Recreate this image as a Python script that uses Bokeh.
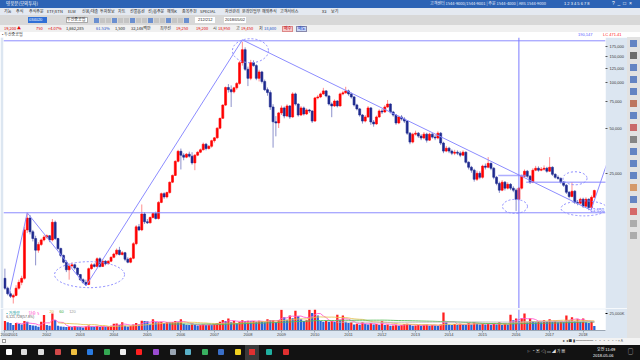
import pandas as pd
from bokeh.plotting import figure
from bokeh.models import (ColumnDataSource, FixedTicker, NumeralTickFormatter, Span,
                          Label, Div, Range1d)
from bokeh.layouts import column, row
from bokeh.embed import file_html
from bokeh.resources import INLINE

# ---------------- data (monthly candles, month index: 0 = 2000-01) ----------------
month_index = list(range(9, 221))

opens = [
    5000, 4300, 3950,
    3750, 3850, 4300, 4700, 5000, 10500, 12600, 10200, 9200, 7700, 8400, 9000,
    9400, 9600, 9000, 11800, 9200, 7900, 7100, 6400, 5700, 6050, 6150, 5850,
    5300, 4900, 4700, 4550, 5800, 6150, 6000, 6750, 6000, 6500, 6250, 6500,
    6900, 7250, 7700, 7200, 7400, 6700, 6400, 6800, 8500, 11000, 10500, 13400,
    11900, 11700, 12700, 13500, 12500, 16000, 18300, 17400, 18600, 21800, 24200, 30000,
    35000, 33000, 32000, 33500, 32500, 29300, 33000, 34500, 35800, 39000, 36500, 37800,
    41200, 43000, 49900, 58000, 71000, 93000, 90000, 87000, 92500, 99000, 136000, 166000,
    123000, 107000, 136000, 130000, 107000, 118000, 102000, 90000, 86000, 69000, 55000, 54000,
    63000, 68000, 60100, 70100, 59200, 84300, 72200, 61000, 68000, 62000, 65900, 64900,
    55600, 79300, 80500, 84300, 88300, 81700, 72200, 70100, 75600, 70100, 84300, 85700,
    88300, 84300, 80500, 71200, 67000, 61000, 55600, 59200, 68000, 54800, 53200, 59200,
    64900, 63900, 69000, 72200, 63900, 61000, 54000, 59200, 57400, 55600, 46200, 40300,
    45500, 46200, 44200, 42900, 45500, 41500, 45500, 43500, 42900, 46200, 39700, 35100,
    36700, 35100, 34000, 34500, 34000, 33000, 34500, 29600, 27400, 26200, 22800, 25000,
    23500, 27900, 27400, 29100, 27000, 23500, 21400, 19300, 21800, 19900, 21100, 19900,
    19300, 16800, 19900, 23900, 25800, 23900, 21800, 26200, 27000, 26200, 26600, 27000,
    25800, 27400, 24600, 23500, 23100, 21800, 20800, 18700, 17500, 19000, 16000, 15800,
    16800, 15100, 16800, 14800, 17300,
]
highs = [
    5800, 4400, 4100,
    3950, 4500, 4900, 5200, 11000, 13650, 13200, 10500, 9600, 8700, 9200, 9700,
    9800, 9700, 12400, 12100, 9300, 8000, 7200, 6600, 6300, 6400, 6250, 5900,
    5350, 5000, 4900, 5900, 6300, 6300, 6900, 6900, 6700, 6600, 6600, 7000,
    7400, 7900, 8100, 7600, 7500, 6900, 6900, 8700, 11300, 11500, 15500, 13800,
    12400, 12900, 13700, 13900, 16300, 18600, 18700, 18900, 22000, 24500, 30500, 35800,
    36500, 34000, 34000, 34800, 34500, 33500, 35000, 36500, 40000, 39800, 38500, 41800,
    43500, 50500, 58500, 72000, 94500, 98000, 96000, 94000, 101000, 140000, 187000, 172000,
    128000, 142000, 141000, 133000, 122000, 120000, 105000, 93000, 89000, 72000, 60000, 64000,
    70500, 69500, 72000, 71000, 86500, 86000, 73000, 70000, 69500, 67500, 67000, 65500,
    80500, 83000, 86000, 92500, 89500, 82500, 74000, 77500, 76500, 86000, 88500, 94000,
    90000, 86000, 81500, 72500, 68000, 62000, 61000, 70000, 69000, 56500, 60500, 66500,
    67000, 71000, 76800, 73000, 65000, 62000, 60500, 61000, 59000, 56500, 47000, 46500,
    48000, 47000, 45500, 47000, 46500, 46500, 46500, 45000, 47500, 47000, 40500, 38000,
    37500, 36000, 35800, 35500, 35000, 35500, 35000, 30000, 28000, 26800, 26000, 25800,
    28500, 29000, 32000, 29500, 27500, 24000, 22000, 22500, 22200, 21800, 21500, 20500,
    19800, 20300, 24500, 26500, 26300, 24300, 27000, 28000, 27800, 27500, 28200, 27600,
    32000, 27800, 25000, 24200, 23500, 22200, 21200, 19000, 21800, 19300, 16600, 17200,
    17200, 17300, 17000, 17800, 19450,
]
lows = [
    4200, 3850, 3700,
    3400, 3800, 4200, 4500, 4900, 10000, 9800, 8800, 6100, 7400, 8200, 8800,
    9200, 8700, 8800, 9000, 7700, 6900, 6300, 5500, 4900, 5900, 5700, 5200,
    4800, 4600, 4450, 4500, 5700, 5900, 5900, 5900, 5950, 6100, 6200, 6400,
    6800, 7100, 7100, 7100, 6500, 6300, 6300, 6700, 8300, 10300, 10300, 11500,
    11500, 11600, 12500, 12300, 12300, 15800, 16900, 17000, 18300, 21500, 24000, 29500,
    26500, 30500, 31500, 31800, 28500, 26200, 32500, 34000, 35500, 35500, 36000, 37000,
    40000, 42500, 49000, 57500, 70000, 86000, 69000, 85000, 90000, 97000, 130000, 120000,
    95000, 104000, 128000, 104000, 102000, 99000, 88000, 82000, 66000, 37000, 44000, 50000,
    61000, 58000, 59000, 57500, 58500, 70500, 59500, 60000, 60500, 61000, 63000, 54000,
    55000, 77500, 79000, 83000, 80000, 70500, 59000, 69000, 68500, 69500, 82500, 84500,
    82000, 78500, 69500, 65500, 59500, 53500, 54500, 58500, 52500, 51000, 52500, 58500,
    62000, 63000, 68000, 62500, 59500, 52500, 53000, 56000, 54000, 45000, 39000, 39500,
    44500, 43000, 41500, 42000, 40000, 41000, 42500, 41500, 42000, 38500, 34000, 34500,
    34000, 33000, 33000, 33000, 32000, 32500, 29000, 26500, 25200, 22000, 22200, 22800,
    23000, 26500, 27000, 26200, 22800, 20800, 18500, 19000, 19200, 19500, 19300, 18700,
    14000, 16500, 19500, 23500, 23300, 21200, 21500, 25800, 25600, 25800, 26000, 25200,
    25500, 24000, 23000, 22600, 21300, 20300, 18200, 17000, 17300, 15600, 15300, 15500,
    14700, 14800, 14200, 14500, 17200,
]
closes = [
    4300, 3950, 3800,
    3850, 4300, 4700, 5000, 10500, 12600, 10200, 9200, 7700, 8400, 9000, 9400,
    9600, 9000, 11800, 9200, 7900, 7100, 6400, 5700, 6050, 6150, 5850, 5300,
    4900, 4700, 4550, 5800, 6150, 6000, 6750, 6000, 6500, 6250, 6500, 6900,
    7250, 7700, 7200, 7400, 6700, 6400, 6800, 8500, 11000, 10500, 13400, 11900,
    11700, 12700, 13500, 12500, 16000, 18300, 17400, 18600, 21800, 24200, 30000, 35000,
    33000, 32000, 33500, 32500, 29300, 33000, 34500, 35800, 39000, 36500, 37800, 41200,
    43000, 49900, 58000, 71000, 93000, 90000, 87000, 92500, 99000, 136000, 166000, 123000,
    107000, 136000, 130000, 107000, 118000, 102000, 90000, 86000, 69000, 55000, 54000, 63000,
    68000, 60100, 70100, 59200, 84300, 72200, 61000, 68000, 62000, 65900, 64900, 55600,
    79300, 80500, 84300, 88300, 81700, 72200, 70100, 75600, 70100, 84300, 85700, 88300,
    84300, 80500, 71200, 67000, 61000, 55600, 59200, 68000, 54800, 53200, 59200, 64900,
    63900, 69000, 72200, 63900, 61000, 54000, 59200, 57400, 55600, 46200, 40300, 45500,
    46200, 44200, 42900, 45500, 41500, 45500, 43500, 42900, 46200, 39700, 35100, 36700,
    35100, 34000, 34500, 34000, 33000, 34500, 29600, 27400, 26200, 22800, 25000, 23500,
    27900, 27400, 29100, 27000, 23500, 21400, 19300, 21800, 19900, 21100, 19900, 19300,
    16800, 19900, 23900, 25800, 23900, 21800, 26200, 27000, 26200, 26600, 27000, 25800,
    27400, 24600, 23500, 23100, 21800, 20800, 18700, 17500, 19000, 16000, 15800, 16800,
    15100, 16800, 14800, 17300, 19200,
]
volume_k = [
    14000, 12000, 11000,
    8300, 11000, 10000, 9000, 14000, 13000, 8000, 7500, 7000, 5500, 13000, 23000,
    8000, 7000, 25000, 15500, 7000, 6000, 5500, 5000, 6000, 5000, 6500, 5500,
    5000, 4500, 6000, 7500, 6000, 5500, 6500, 5000, 6000, 5500, 6000, 7000,
    10000, 10500, 8000, 12000, 7000, 6000, 6500, 9000, 11000, 9000, 14500, 14000,
    13500, 10000, 16700, 12000, 12000, 13000, 11000, 12500, 12000, 12500, 14000, 13000,
    16700, 10000, 8500, 8000, 9000, 8300, 7500, 8000, 9000, 8000, 8500, 8300,
    9500, 11000, 13000, 15500, 14000, 17800, 12000, 14000, 11000, 13000, 15000, 14000,
    14500, 13500, 14000, 13000, 14500, 13500, 12000, 16700, 15000, 15500, 12000, 15500,
    30500, 19500, 16000, 22000, 18000, 29000, 21000, 16700, 14000, 15000, 30500, 26000,
    32000, 22000, 14000, 13000, 14500, 13000, 14000, 13000, 23300, 15000, 22000, 13000,
    11000, 12000, 9000, 10000, 8500, 12000, 10000, 9000, 11000, 9000, 9500, 8000,
    14000, 8000, 9000, 7000, 7500, 8500, 7000, 8000, 9500, 10000, 8500, 7000,
    7500, 8000, 7000, 8500, 9000, 7000, 8000, 7500, 6500, 9000, 26700, 12000,
    9000, 8000, 9500, 8000, 10000, 9000, 8500, 11000, 9000, 12000, 10000, 9000,
    10500, 9000, 11000, 8500, 10000, 9000, 12000, 8000, 10000, 9000, 23300, 15000,
    17800, 14000, 18000, 25000, 12000, 17800, 14000, 12000, 13500, 12000, 15000, 12500,
    16700, 13000, 14000, 12000, 13000, 12500, 22000, 15000, 19500, 14000, 16700, 13000,
    17800, 12000, 11000, 14000, 6700,
]

year_tick_months = [9, 12, 24, 36, 48, 60, 72, 84, 96, 108, 120, 132, 144, 156, 168, 180, 192, 204, 216]
year_tick_labels = ["2000", "2001", "2002", "2003", "2004", "2005", "2006", "2007", "2008", "2009",
                    "2010", "2011", "2012", "2013", "2014", "2015", "2016", "2017", "2018"]
price_ticks = [25000, 50000, 75000, 100000, 125000, 150000, 175000]

# user drawn objects (month, price)
trend_x0 = [10.5, 17.0, 38.0, 94.0, 218.8]
trend_y0 = [3900, 13650, 4450, 193000, 14200]
trend_x1 = [17.0, 38.0, 94.0, 218.8, 224.9]
trend_y1 = [13650, 4450, 193000, 14200, 30500]
hline_levels = [190147, 13650]
box_x0 = [185.6, 195.6]
box_x1 = [195.6, 224.5]
box_level = [24200, 21800]
ellipse_m = [39.3, 96.9, 191.6, 213.1, 216.3]
ellipse_price = [5290, 163300, 15050, 23150, 14600]
ellipse_w_px = [70, 36, 25, 24, 46]
ellipse_h_px = [26, 24, 14, 13, 15]
cursor_month = 193
last_price = 19200
last_volume_k = 6700

UP, DOWN = "#ff0000", "#1e2a8e"
UPW, DOWNW = "#ff8f8f", "#8d92cc"
DRAW = "#8c8cff"
PANEL = "#dce6f1"
KR = "Noto Sans CJK KR"
NUM = "Liberation Sans"

up = [c >= o for o, c in zip(opens, closes)]
src = ColumnDataSource(dict(
    m=month_index, o=opens, h=highs, l=lows, c=closes,
    top=[max(o, c) for o, c in zip(opens, closes)],
    bot=[min(o, c) for o, c in zip(opens, closes)],
    col=[UP if u else DOWN for u in up],
    wcol=[UPW if u else DOWNW for u in up],
))

xr = Range1d(8.5, 224.0)

# ---------------- price pane ----------------
p = figure(width=627, height=271, y_axis_type="log", x_range=xr, y_range=Range1d(3150, 200000),
           output_backend="svg", toolbar_location=None, y_axis_location="right", title=None,
           min_border_left=3, min_border_right=22, min_border_top=0, min_border_bottom=0)
p.xaxis.visible = False
p.grid.visible = False
p.outline_line_color = None
p.border_fill_color = PANEL
p.background_fill_color = "white"
p.yaxis.ticker = FixedTicker(ticks=price_ticks)
p.yaxis.formatter = NumeralTickFormatter(format="0,0")
p.yaxis.major_label_text_font = NUM
p.yaxis.major_label_text_font_size = "4px"
p.yaxis.major_label_text_color = "#333333"
p.yaxis.major_tick_out = 2
p.yaxis.major_tick_in = 0
p.yaxis.major_label_standoff = 2
p.yaxis.minor_tick_line_color = None
p.yaxis.axis_line_color = None
p.yaxis.major_tick_line_color = "#555555"

p.segment(x0="m", y0="l", x1="m", y1="h", line_color="wcol", line_width=1, source=src)
p.vbar(x="m", width=0.72, top="top", bottom="bot", fill_color="col", line_color="col",
       line_width=0.6, source=src)

for lvl in hline_levels:
    p.add_layout(Span(location=lvl, dimension="width", line_color=DRAW, line_width=1))
p.segment(x0=trend_x0, y0=trend_y0, x1=trend_x1, y1=trend_y1, line_color=DRAW, line_width=1)
p.segment(x0=box_x0, y0=box_level, x1=box_x1, y1=box_level, line_color=DRAW, line_width=1.5,
          line_alpha=0.7)
p.ellipse(x=ellipse_m, y=ellipse_price, width=ellipse_w_px, height=ellipse_h_px,
          width_units="screen", height_units="screen", fill_color=None,
          line_color=DRAW, line_dash="2 2", line_width=1)
p.add_layout(Span(location=cursor_month, dimension="height", line_color="#7b7bff", line_width=1))

p.add_layout(Label(x=224.0, y=last_price, x_offset=1, text="19,200", text_font=NUM,
                   text_font_size="4.5px", text_color="white", text_baseline="middle",
                   background_fill_color="#ff1a1a", border_line_color=None, padding=1))
p.add_layout(Label(x=223.5, y=13650, text="13,650", text_font=NUM, text_font_size="4.5px",
                   text_color="#6a6aff", text_align="right", text_baseline="bottom", y_offset=1))

# ---------------- volume pane ----------------
vprev = [volume_k[0]] + volume_k[:-1]
vsrc = ColumnDataSource(dict(m=month_index, v=volume_k,
                             col=["#ff1f1f" if v >= pv else "#2a62d6" for v, pv in zip(volume_k, vprev)]))
vs = pd.Series(volume_k, dtype=float)

q = figure(width=627, height=30, x_range=xr, y_range=Range1d(0, 31000),
           output_backend="svg", toolbar_location=None, y_axis_location="right", title=None,
           min_border_left=3, min_border_right=22, min_border_top=1, min_border_bottom=5)
q.grid.visible = False
q.outline_line_color = None
q.border_fill_color = PANEL
q.vbar(x="m", width=0.82, top="v", bottom=0, fill_color="col", line_color=None, source=vsrc)
for n, colr in [(5, "#ff5fd0"), (20, "#e9c25a"), (60, "#5cbf5c"), (120, "#b9b9b9")]:
    q.line(month_index, list(vs.rolling(n).mean()), line_color=colr, line_width=1, line_alpha=0.9)
q.add_layout(Span(location=cursor_month, dimension="height", line_color="#7b7bff", line_width=1))
q.yaxis.ticker = FixedTicker(ticks=[25000])
q.yaxis.major_label_overrides = {25000: "25,000K"}
q.yaxis.major_label_text_font = NUM
q.yaxis.major_label_text_font_size = "4px"
q.yaxis.major_tick_out = 2
q.yaxis.major_tick_in = 0
q.yaxis.major_label_standoff = 2
q.yaxis.minor_tick_line_color = None
q.yaxis.axis_line_color = None
q.xaxis.ticker = FixedTicker(ticks=year_tick_months)
q.xaxis.major_label_overrides = {t: s for t, s in zip(year_tick_months, year_tick_labels)}
q.xaxis.major_label_text_font = NUM
q.xaxis.major_label_text_font_size = "4px"
q.xaxis.major_label_text_align = "left"
q.xaxis.major_label_standoff = 0
q.xaxis.major_tick_out = 2
q.xaxis.major_tick_in = 0
q.xaxis.major_tick_line_color = "#9aa6b4"
q.xaxis.minor_tick_line_color = None
q.xaxis.axis_line_color = "#9aa6b4"
q.add_layout(Label(x=224.0, y=last_volume_k, x_offset=1, text="6,700K", text_font=NUM,
                   text_font_size="4px", text_color="white", text_baseline="middle",
                   background_fill_color="#2a62d6", border_line_color=None, padding=1))
q.add_layout(Label(x=224.0, y=0, x_offset=1, y_offset=-1, text="05/02", text_font=NUM,
                   text_font_size="4px", text_color="#222222", text_baseline="top",
                   background_fill_color="#eef3f8", border_line_color="#8a9ab0", padding=1))
legend_y = 30800
q.add_layout(Label(x=9.5, y=legend_y, text="• 거래량", text_font=KR, text_font_size="4px",
                   text_color="#119c9c", text_baseline="top"))
q.add_layout(Label(x=17.5, y=legend_y, text="단순 5", text_font=KR, text_font_size="4px",
                   text_color="#ff3fc8", text_baseline="top"))
q.add_layout(Label(x=25.0, y=legend_y, text="20", text_font=NUM, text_font_size="4px",
                   text_color="#e0b030", text_baseline="top"))
q.add_layout(Label(x=28.5, y=legend_y, text="60", text_font=NUM, text_font_size="4px",
                   text_color="#3aa63a", text_baseline="top"))
q.add_layout(Label(x=32.0, y=legend_y, text="120", text_font=NUM, text_font_size="4px",
                   text_color="#999999", text_baseline="top"))
q.add_layout(Label(x=9.5, y=legend_y, y_offset=-5, text="6,121,728(57.8%)", text_font=NUM,
                   text_font_size="3.5px", text_color="#555555", text_baseline="top"))

# ---------------- application chrome ----------------
def span(x, y, txt, color="#222", size=4.5, bg=None, font=KR, extra=""):
    b = f"background:{bg};" if bg else ""
    return (f'<span style="position:absolute;left:{x}px;top:{y}px;font-size:{size}px;'
            f'line-height:{size+1}px;color:{color};{b}white-space:nowrap;font-family:\'{font}\';{extra}">{txt}</span>')

def box(x, y, w, h, bg, extra=""):
    return f'<div style="position:absolute;left:{x}px;top:{y}px;width:{w}px;height:{h}px;background:{bg};{extra}"></div>'

menu = ["기능", "주식", "주식주문", "ETF/ETN", "ELW", "신용/대출", "투자정보", "차트", "선물옵션",
        "선/옵주문", "해외K", "종목추천", "SPECIAL", "자산관리", "온라인업무", "해외주식", "고객서비스", "X3", "보기"]
menu_x = [4, 16, 29, 47, 68, 82, 100, 118, 130, 148, 167, 182, 200, 225, 242, 262, 280, 322, 331]
h = []
h.append(box(0, 0, 640, 8, "#2c63b5"))
h.append(span(6, 1, "영웅문(모의투자)", "white", 4.5))
h.append(span(430, 1, "고객센터 1544-9000/1544-9001 | 주문 1544-4000 | ARS 1544-9000", "#e8eefc", 4))
h.append(span(564, 1, "1 2 3 4 5 6 7 8", "white", 4, font=NUM))
h.append(span(612, 0, "?&nbsp;&nbsp;_&nbsp;&nbsp;□&nbsp;&nbsp;×", "white", 5, font=NUM))
h.append(box(0, 8, 640, 7, "#e4e9f1"))
for t, x in zip(menu, menu_x):
    h.append(span(x, 9, t, "#222", 4))
h.append(box(0, 15, 640, 10, "#d8d8d8"))
h.append(box(28, 17, 19, 6, "#2f6fd6"))
h.append(span(29, 17, "034020", "white", 4, font=NUM))
h.append(box(66, 17, 22, 6, "#ffffff", "border:1px solid #aaa;box-sizing:border-box;"))
h.append(span(67, 17, "두산중공업", "#222", 4))
for i, x in enumerate([94, 100, 106, 112, 118, 124, 130, 136, 142, 148, 154, 160, 166, 172, 178, 184]):
    h.append(box(x, 18, 5, 5, "#c4c4c4" if i % 3 else "#6a8fd0"))
h.append(box(195, 17, 20, 6, "#ffffff"))
h.append(span(198, 17, "212/212", "#222", 4, font=NUM))
h.append(box(224, 17, 22, 6, "#ffffff"))
h.append(span(225, 17, "2018/05/02", "#222", 4, font=NUM))
h.append(box(0, 25, 640, 7, "#f0f0f0"))
info = [(4, "19,200 ▲", "#e00000"), (36, "750", "#e00000"), (48, "+4.07%", "#e00000"),
        (66, "1,662,285", "#222"), (96, "61.53%", "#2050c8"), (115, "1,500", "#222"),
        (131, "32,146백만", "#222"), (160, "최우선", "#222"), (176, "19,250", "#e00000"),
        (196, "19,200", "#e00000"), (213, "시", "#222"), (218, "18,950", "#e00000"),
        (236, "고", "#222"), (241, "19,450", "#e00000"), (259, "저", "#222"), (264, "18,600", "#2050c8")]
for x, t, c in info:
    h.append(span(x, 26, t, c, 4))
h.append(box(282, 26, 11, 6, "#f6c9c9", "border:1px solid #d88;box-sizing:border-box;"))
h.append(span(284, 26, "매수", "#c00000", 4))
h.append(box(296, 26, 11, 6, "#c9d6f6", "border:1px solid #88a;box-sizing:border-box;"))
h.append(span(298, 26, "매도", "#0030c0", 4))
h.append(box(0, 32, 640, 5, "#ffffff"))
h.append(span(2, 31.5, "• 두산중공업", "#333", 4))
h.append(span(578, 31.5, "190,147", "#5a5aff", 4, font=NUM))
h.append(span(603, 31.5, "LC 471.41", "#ff2020", 4, font=NUM))
header = Div(text=f'<div style="position:relative;width:640px;height:37px;overflow:hidden;">{"".join(h)}</div>',
             width=640, height=37, margin=0)

s = [box(0, 0, 13, 301, "#e2e2e2")]
icon_cols = ["#3a64b8", "#444", "#3a64b8", "#3a64b8", "#3a64b8", "#b05030", "#3a64b8", "#c04040",
             "#666", "#3a64b8", "#3a64b8", "#3a64b8", "#d08040", "#3a64b8", "#d04040", "#999", "#999"]
for i, c in enumerate(icon_cols):
    s.append(box(3, 3 + i * 12, 7, 7, c, "opacity:0.75;"))
side = Div(text=f'<div style="position:relative;width:13px;height:301px;overflow:hidden;">{"".join(s)}</div>',
           width=13, height=301, margin=0)

f = [box(0, 0, 640, 7, "#f3f3f3")]
f.append(box(2, 1, 4, 4, "#ffffff", "border:1px solid #999;box-sizing:border-box;"))
f.append(span(563, 0.5, "▸ ◂ ■ ▮ ━━━━━ ▫ ▫ ▫ ▫ ▫ − + A", "#333", 3.5))
f.append(box(0, 7, 640, 15, "#121212"))
task_x = [6, 21, 38, 55, 71, 87, 104, 120, 136, 153, 170, 185, 202, 218, 235, 250, 266, 283]
task_c = ["#ffffff", "#dddddd", "#dddddd", "#d04848", "#f0c040", "#2a7be0", "#34a853", "#eeeeee",
          "#ff2020", "#9a4bd0", "#9aa6b4", "#5ab0c8", "#38b060", "#3a6fc8", "#f0d020", "#d83030",
          "#20b0a0", "#e03030"]
for x, c in zip(task_x, task_c):
    f.append(box(x, 11, 6, 6, c, "border-radius:1px;"))
f.append(box(245, 7, 14, 15, "#3a3a3a"))
f.append(box(249, 11, 6, 6, "#e03030"))
f.append(span(527, 11, "⚐ ⌃ ▣ ◁) ▭ ◢ 가 ▦", "#dddddd", 4))
f.append(span(597, 9, "오전 11:49", "#ffffff", 4))
f.append(span(593, 15, "2018-05-06", "#ffffff", 4, font=NUM))
f.append(span(628, 10, "▢", "#ffffff", 5))
footer = Div(text=f'<div style="position:relative;width:640px;height:22px;overflow:hidden;">{"".join(f)}</div>',
             width=640, height=22, margin=0)

layout = column(header, row(column(p, q, spacing=0), side, spacing=0), footer, spacing=0)
open("out.html", "w").write(file_html(layout, INLINE, title="chart"))
